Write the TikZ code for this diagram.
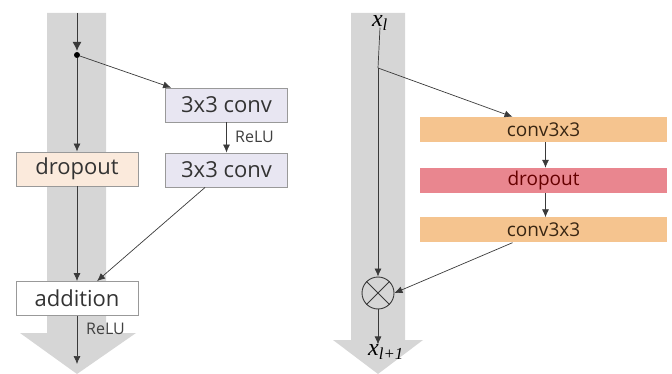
\documentclass[tikz,border=0pt]{standalone}
\usepackage{fontspec}
\setmainfont{Open Sans}
\newfontfamily\varfont{Liberation Serif}
\usetikzlibrary{arrows.meta}
\definecolor{bandgray}{HTML}{D6D6D6}
\definecolor{convL}{HTML}{E8E6F2}
\definecolor{dropL}{HTML}{FBEADC}
\definecolor{convR}{HTML}{F5C48F}
\definecolor{dropR}{HTML}{E9868F}
\definecolor{linegray}{HTML}{3A3A3A}
\tikzset{
  band/.style={fill=bandgray},
  lbox/.style={draw=gray!80, line width=0.8pt, minimum width=122pt, minimum height=34pt,
    inner sep=0pt, font=\fontsize{22}{24}\selectfont, text=black!80},
  rbox/.style={minimum width=247pt, minimum height=25pt, inner sep=0pt,
    font=\fontsize{19}{21}\selectfont},
  conn/.style={draw=linegray, line width=0.7pt, -{Latex[length=8pt,width=7pt]}},
  lbl/.style={font=\fontsize{16}{18}\selectfont, text=black!75, inner sep=0pt},
  var/.style={font=\varfont\itshape\fontsize{24}{26}\selectfont, inner sep=0pt}
}
\begin{document}
\begin{tikzpicture}[x=1pt,y=-1pt]
\useasboundingbox (0,0) rectangle (672,374);

% wide gray flow arrows
\fill[band] (47,13) -- (106,13) -- (106,333) -- (136,333) -- (77,374) -- (20,333) -- (47,333) -- cycle;
\fill[band] (351,13) -- (405,13) -- (405,340) -- (423,340) -- (378,374) -- (333,340) -- (351,340) -- cycle;

% ---- left block ----
\coordinate (ltop) at (77,13);
\node[circle, fill=black, inner sep=0pt, minimum size=6pt] (split) at (77,55) {};
\node[lbox, fill=convL] (c1) at (226.5,105) {3x3 conv};
\node[lbox, fill=convL] (c2) at (226.5,170) {3x3 conv};
\node[lbox, fill=dropL] (dl) at (77,169) {dropout};
\node[lbox, fill=white] (add) at (77,298.5) {addition};
\coordinate (lend) at (77,364);
\coordinate (c2out) at ([xshift=40pt]c2.south west);
\node[lbl, anchor=west] (relu1) at (235,137) {ReLU};
\node[lbl, anchor=west] (relu2) at (86,329) {ReLU};

\draw[conn, -{Latex[length=9pt,width=9pt]}, shorten >=1pt] (ltop) -- (split.north);
\draw[conn] (split) -- (dl.north);
\draw[conn] (split) -- ([xshift=6pt]c1.north west);
\draw[conn] (c1.south) -- (c2.north);
\draw[conn] (dl.south) -- (add.north);
\draw[conn] (c2out) -- ([xshift=20pt]add.north);
\draw[conn] (add.south) -- (lend);

% ---- right block ----
\node[var] (xl) at (380,23) {x\textsubscript{\itshape l}};
\coordinate (branch) at (378,68);
\node[rbox, fill=convR, text=black!70!brown] (r1) at (543.5,129.5) {conv3x3};
\node[rbox, fill=dropR, text=black!60!red] (r2) at (543.5,180.5) {dropout};
\node[rbox, fill=convR, text=black!70!brown] (r3) at (543.5,230) {conv3x3};
\node[circle, draw=linegray, line width=0.9pt, minimum size=32pt, inner sep=0pt] (mul) at (378,293) {};
\draw[linegray, line width=0.9pt] (mul.north west) -- (mul.south east) (mul.north east) -- (mul.south west);
\node[var] (xl1) at (386,352) {x\textsubscript{\itshape l+1}};

\draw[linegray, line width=0.7pt] ([yshift=3pt]xl.south) -- (branch);
\draw[conn] (branch) -- (mul.north);
\draw[conn] (branch) -- ([xshift=-31pt]r1.north);
\draw[conn] ([xshift=2pt]r1.south) -- ([xshift=2pt]r2.north);
\draw[conn] ([xshift=2pt]r2.south) -- ([xshift=2pt]r3.north);
\draw[conn] ([xshift=-31pt]r3.south) -- (mul.east);
\draw[conn] (mul.south) -- (xl1.north -| mul.south);
\end{tikzpicture}
\end{document}
